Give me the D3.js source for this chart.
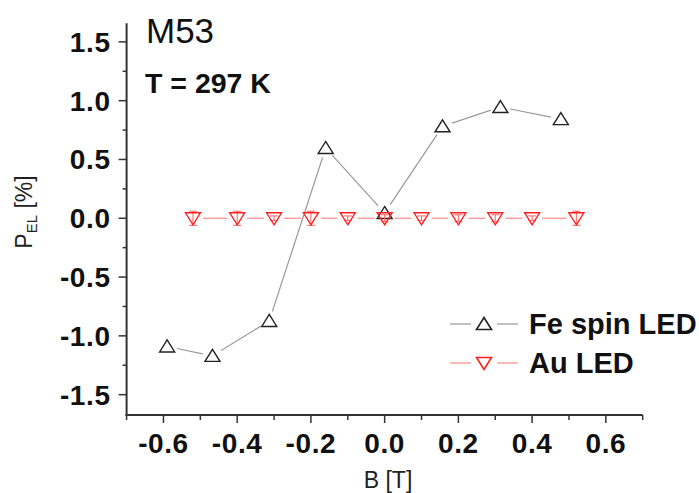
<!DOCTYPE html>
<html>
<head>
<meta charset="utf-8">
<script src="https://cdn.jsdelivr.net/npm/d3@7/dist/d3.min.js"></script>
<style>
  html, body { margin: 0; padding: 0; background: #fff; }
  svg { display: block; }
  text { font-family: "Liberation Sans", Arial, sans-serif; }
</style>
</head>
<body>
<svg id="chart" width="699" height="493"></svg>
<script>
// Magnetic field B [T] and electroluminescence polarization P_EL [%]
const feB = [-0.59, -0.467, -0.313, -0.16, 0.0, 0.157, 0.314, 0.478];
const feP = [-1.09, -1.17, -0.873, 0.598, 0.045, 0.782, 0.946, 0.843];

const auB = [-0.52, -0.4, -0.3, -0.2, -0.1, 0.0, 0.1, 0.2, 0.3, 0.4, 0.52];
const auP = [0, 0, 0, 0, 0, 0, 0, 0, 0, 0, 0];
const auErr = [0.06, 0.06, 0.02, 0.06, 0.02, 0.03, 0.02, 0.03, 0.03, 0.02, 0.06];

const xTicks = [-0.6, -0.4, -0.2, 0.0, 0.2, 0.4, 0.6];
const yTicks = [-1.5, -1.0, -0.5, 0.0, 0.5, 1.0, 1.5];

const seriesNames = ["Fe spin LED", "Au LED"];

const svg = d3.select("#chart");

const x = d3.scaleLinear().domain([-0.7, 0.7]).range([126.6, 642.7]);
const y = d3.scaleLinear().domain([-1.673, 1.658]).range([415, 23.3]);

const axisColor = "#333";
const fmt = d3.format(".1f");

// x axis with minor ticks every 0.1
const xMinor = d3.range(-0.7, 0.71, 0.1).map(v => +v.toFixed(2));
const xAxisG = svg.append("g").attr("transform", `translate(0,${y.range()[0]})`);
xAxisG.append("line").attr("x1", x.range()[0] - 1).attr("x2", x.range()[1])
  .attr("stroke", axisColor).attr("stroke-width", 2);
xAxisG.selectAll("line.minor").data(xMinor).enter().append("line")
  .attr("class", "minor")
  .attr("x1", d => x(d)).attr("x2", d => x(d))
  .attr("y1", 0).attr("y2", d => xTicks.some(t => Math.abs(t - d) < 1e-6) ? 8 : 5)
  .attr("stroke", axisColor).attr("stroke-width", 1.5);
xAxisG.selectAll("text").data(xTicks).enter().append("text")
  .attr("x", d => x(d)).attr("y", 38)
  .attr("text-anchor", "middle")
  .attr("font-size", 28).attr("font-weight", "bold")
  .attr("letter-spacing", 0.6)
  .attr("fill", "#111")
  .text(d => d < 0 ? "-" + fmt(-d) : fmt(d));

// y axis with minor ticks every 0.25
const yMinor = d3.range(-1.5, 1.51, 0.25).map(v => +v.toFixed(2));
const yAxisG = svg.append("g").attr("transform", `translate(${x.range()[0]},0)`);
yAxisG.append("line").attr("y1", y.range()[0] + 1).attr("y2", y.range()[1])
  .attr("stroke", axisColor).attr("stroke-width", 2);
yAxisG.selectAll("line.minor").data(yMinor).enter().append("line")
  .attr("class", "minor")
  .attr("y1", d => y(d)).attr("y2", d => y(d))
  .attr("x1", 0).attr("x2", d => yTicks.some(t => Math.abs(t - d) < 1e-6) ? -8 : -4)
  .attr("stroke", axisColor).attr("stroke-width", 1.5);
yAxisG.selectAll("text").data(yTicks).enter().append("text")
  .attr("x", -16).attr("y", d => y(d) + 10)
  .attr("text-anchor", "end")
  .attr("font-size", 28).attr("font-weight", "bold")
  .attr("letter-spacing", 0.6)
  .attr("fill", "#111")
  .text(d => d < 0 ? "-" + fmt(-d) : fmt(d));

// Axis titles
svg.append("text").attr("x", 388).attr("y", 488)
  .attr("text-anchor", "middle").attr("font-size", 23).attr("fill", "#222")
  .text("B [T]");

const yTitle = svg.append("text")
  .attr("transform", "translate(32,212) rotate(-90)")
  .attr("text-anchor", "middle").attr("font-size", 23).attr("fill", "#222");
yTitle.append("tspan").text("P");
yTitle.append("tspan").attr("font-size", 15).attr("dy", 5).text("EL");
yTitle.append("tspan").attr("dy", -5).text(" [%]");

// Annotations
svg.append("text").attr("x", 146).attr("y", 43)
  .attr("font-size", 35).attr("fill", "#111").text("M53");
svg.append("text").attr("x", 145).attr("y", 93)
  .attr("font-size", 28.5).attr("font-weight", "bold").attr("fill", "#111")
  .text("T = 297 K");

// Marker shapes
const upTri = "M0,-6.5L7.5,5.5L-7.5,5.5Z";
const downTri = "M0,6.5L7.5,-5.5L-7.5,-5.5Z";

// Connecting line segments, trimmed short of each marker
function gappedSegments(xs, ys, gap) {
  const segs = [];
  for (let i = 0; i < xs.length - 1; i++) {
    const x1 = x(xs[i]), y1 = y(ys[i]), x2 = x(xs[i + 1]), y2 = y(ys[i + 1]);
    const dx = x2 - x1, dy = y2 - y1, len = Math.hypot(dx, dy);
    if (len <= 2 * gap) continue;
    const ux = dx / len, uy = dy / len;
    segs.push([x1 + ux * gap, y1 + uy * gap, x2 - ux * gap, y2 - uy * gap]);
  }
  return segs;
}

// Fe spin LED series
const feColor = "#222", feLine = "#999";
svg.append("g").selectAll("line").data(gappedSegments(feB, feP, 10)).enter().append("line")
  .attr("x1", d => d[0]).attr("y1", d => d[1]).attr("x2", d => d[2]).attr("y2", d => d[3])
  .attr("stroke", feLine).attr("stroke-width", 1.2);
svg.append("g").selectAll("path").data(feB).enter().append("path")
  .attr("transform", (d, i) => `translate(${x(d)},${y(feP[i])})`)
  .attr("d", upTri).attr("fill", "none").attr("stroke", feColor).attr("stroke-width", 1.4);

// Au LED series
const auColor = "#ff2020", auLine = "#ff8a8a";
svg.append("g").selectAll("line").data(gappedSegments(auB, auP, 10)).enter().append("line")
  .attr("x1", d => d[0]).attr("y1", d => d[1]).attr("x2", d => d[2]).attr("y2", d => d[3])
  .attr("stroke", auLine).attr("stroke-width", 1.2);
const errG = svg.append("g").attr("stroke", "#ff6060").attr("stroke-width", 1);
auB.forEach((b, i) => {
  const cx = x(b), top = y(auP[i] + auErr[i]), bot = y(auP[i] - auErr[i]);
  errG.append("line").attr("x1", cx).attr("x2", cx).attr("y1", top).attr("y2", bot);
  errG.append("line").attr("x1", cx - 4).attr("x2", cx + 4).attr("y1", top).attr("y2", top);
  errG.append("line").attr("x1", cx - 4).attr("x2", cx + 4).attr("y1", bot).attr("y2", bot);
});
svg.append("g").selectAll("path").data(auB).enter().append("path")
  .attr("transform", (d, i) => `translate(${x(d)},${y(auP[i])})`)
  .attr("d", downTri).attr("fill", "none").attr("stroke", auColor).attr("stroke-width", 1.4);

// Legend
const legend = [
  { name: seriesNames[0], shape: upTri, stroke: feColor, line: feLine, yPos: 324 },
  { name: seriesNames[1], shape: downTri, stroke: auColor, line: auLine, yPos: 363 }
];
const lg = svg.append("g");
legend.forEach(item => {
  lg.append("line").attr("x1", 450).attr("x2", 471).attr("y1", item.yPos).attr("y2", item.yPos)
    .attr("stroke", item.line).attr("stroke-width", 1.2);
  lg.append("line").attr("x1", 497).attr("x2", 518).attr("y1", item.yPos).attr("y2", item.yPos)
    .attr("stroke", item.line).attr("stroke-width", 1.2);
  lg.append("path").attr("transform", `translate(484,${item.yPos})`)
    .attr("d", item.shape).attr("fill", "none").attr("stroke", item.stroke).attr("stroke-width", 1.6);
  lg.append("text").attr("x", 529).attr("y", item.yPos + 10)
    .attr("font-size", 29).attr("font-weight", "bold").attr("fill", "#111")
    .text(item.name);
});
</script>
</body>
</html>
